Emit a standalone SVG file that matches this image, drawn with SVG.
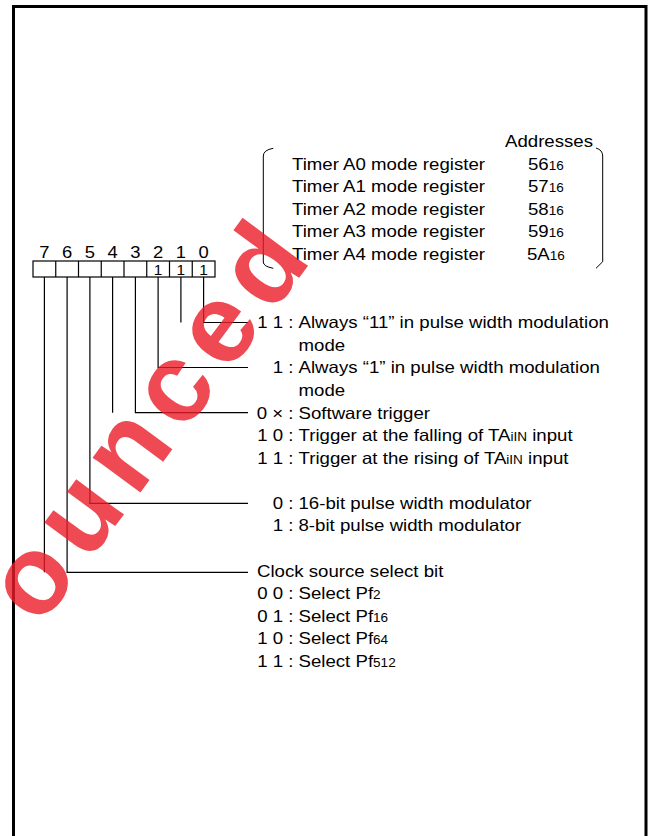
<svg xmlns="http://www.w3.org/2000/svg" width="651" height="836" viewBox="0 0 651 836">
<style>
.t{font-family:"Liberation Sans",Arial,sans-serif;font-size:16.5px;fill:#000}
.e{text-anchor:end}
.s{font-size:12px}
.d{font-family:"Liberation Sans",Arial,sans-serif;font-size:16px;fill:#000;text-anchor:middle}
.c{font-family:"Liberation Sans",Arial,sans-serif;font-size:14px;fill:#000;text-anchor:middle}
.ln{fill:none;stroke:#000;stroke-width:1.2}
.br{fill:none;stroke:#000;stroke-width:1}
.wm{font-family:"Liberation Sans",Arial,sans-serif;font-weight:bold;font-size:112px;fill:#ec1c2a;opacity:0.8}
</style>
<rect width="651" height="836" fill="#fff"/>
<g id="frame">
<path d="M13.5,836 V6.5 H646 V836" fill="none" stroke="#000" stroke-width="3"/>
</g>
<g id="register">
<rect x="33" y="261" width="182" height="16" fill="#fff" stroke="#000" stroke-width="1.2"/>
<path class="ln" d="M55.75,261V277M78.5,261V277M101.25,261V277M124,261V277M146.75,261V277M169.5,261V277M192.25,261V277"/>
<text class="d" transform="translate(44.4,257.5) scale(1.15,1)">7</text>
<text class="d" transform="translate(67.1,257.5) scale(1.15,1)">6</text>
<text class="d" transform="translate(89.9,257.5) scale(1.15,1)">5</text>
<text class="d" transform="translate(112.6,257.5) scale(1.15,1)">4</text>
<text class="d" transform="translate(135.4,257.5) scale(1.15,1)">3</text>
<text class="d" transform="translate(158.1,257.5) scale(1.15,1)">2</text>
<text class="d" transform="translate(180.9,257.5) scale(1.15,1)">1</text>
<text class="d" transform="translate(203.6,257.5) scale(1.15,1)">0</text>
<text class="c" transform="translate(158.1,274.5) scale(1.1,1)">1</text>
<text class="c" transform="translate(180.9,274.5) scale(1.1,1)">1</text>
<text class="c" transform="translate(203.6,274.5) scale(1.1,1)">1</text>
</g>
<g id="connectors">
<path class="ln" d="M203.6,277V322.5H248M180.9,277V322.5"/>
<path class="ln" d="M158.1,277V367.5H248"/>
<path class="ln" d="M135.4,277V412.7H248M112.6,277V412.7"/>
<path class="ln" d="M89.9,277V503.3H248"/>
<path class="ln" d="M67.1,277V572.3H248M44.4,277V572.3"/>
</g>
<g id="addresses">
<path class="br" d="M273.3,148.3 Q263.3,150 263.3,156 V262 Q263.3,266.5 273.3,268.3"/>
<path class="br" d="M596,148 Q602.7,150 602.7,156 V261.7 L596,268.3"/>
<text class="t" transform="translate(505,147) scale(1.13,1)">Addresses</text>
<text class="t" transform="translate(292,169.5) scale(1.13,1)">Timer A0 mode register</text>
<text class="t" transform="translate(292,192) scale(1.13,1)">Timer A1 mode register</text>
<text class="t" transform="translate(292,214.5) scale(1.13,1)">Timer A2 mode register</text>
<text class="t" transform="translate(292,237) scale(1.13,1)">Timer A3 mode register</text>
<text class="t" transform="translate(292,259.5) scale(1.13,1)">Timer A4 mode register</text>
<text class="t" transform="translate(528,169.5) scale(1.13,1)">56<tspan class="s">16</tspan></text>
<text class="t" transform="translate(528,192) scale(1.13,1)">57<tspan class="s">16</tspan></text>
<text class="t" transform="translate(528,214.5) scale(1.13,1)">58<tspan class="s">16</tspan></text>
<text class="t" transform="translate(528,237) scale(1.13,1)">59<tspan class="s">16</tspan></text>
<text class="t" transform="translate(527,259.5) scale(1.13,1)">5A<tspan class="s">16</tspan></text>
</g>
<g id="bits-0-1">
<text class="t e" transform="translate(293.5,328) scale(1.13,1)">1 1 :</text>
<text class="t" transform="translate(298.5,328) scale(1.13,1)">Always “11” in pulse width modulation</text>
<text class="t" transform="translate(298.5,351) scale(1.13,1)">mode</text>
</g>
<g id="bit-2">
<text class="t e" transform="translate(293.5,373) scale(1.13,1)">1 :</text>
<text class="t" transform="translate(298.5,373) scale(1.13,1)">Always “1” in pulse width modulation</text>
<text class="t" transform="translate(298.5,396) scale(1.13,1)">mode</text>
</g>
<g id="bits-3-4">
<text class="t e" transform="translate(293.5,419) scale(1.13,1)">0 × :</text>
<text class="t" transform="translate(298.5,419) scale(1.13,1)">Software trigger</text>
<text class="t e" transform="translate(293.5,441) scale(1.13,1)">1 0 :</text>
<text class="t" transform="translate(298.5,441) scale(1.13,1)">Trigger at the falling of TA<tspan class="s">iIN</tspan> input</text>
<text class="t e" transform="translate(293.5,464) scale(1.13,1)">1 1 :</text>
<text class="t" transform="translate(298.5,464) scale(1.13,1)">Trigger at the rising of TA<tspan class="s">iIN</tspan> input</text>
</g>
<g id="bit-5">
<text class="t e" transform="translate(293.5,509) scale(1.13,1)">0 :</text>
<text class="t" transform="translate(298.5,509) scale(1.13,1)">16-bit pulse width modulator</text>
<text class="t e" transform="translate(293.5,531) scale(1.13,1)">1 :</text>
<text class="t" transform="translate(298.5,531) scale(1.13,1)">8-bit pulse width modulator</text>
</g>
<g id="bits-6-7">
<text class="t" transform="translate(257,577) scale(1.13,1)">Clock source select bit</text>
<text class="t e" transform="translate(293.5,599) scale(1.13,1)">0 0 :</text>
<text class="t" transform="translate(298.5,599) scale(1.13,1)">Select Pf<tspan class="s">2</tspan></text>
<text class="t e" transform="translate(293.5,622) scale(1.13,1)">0 1 :</text>
<text class="t" transform="translate(298.5,622) scale(1.13,1)">Select Pf<tspan class="s">16</tspan></text>
<text class="t e" transform="translate(293.5,644) scale(1.13,1)">1 0 :</text>
<text class="t" transform="translate(298.5,644) scale(1.13,1)">Select Pf<tspan class="s">64</tspan></text>
<text class="t e" transform="translate(293.5,667) scale(1.13,1)">1 1 :</text>
<text class="t" transform="translate(298.5,667) scale(1.13,1)">Select Pf<tspan class="s">512</tspan></text>
</g>
<g id="watermark">
<text class="wm" letter-spacing="12" transform="translate(40,628) rotate(-53.5)">ounced</text>
</g>
</svg>
